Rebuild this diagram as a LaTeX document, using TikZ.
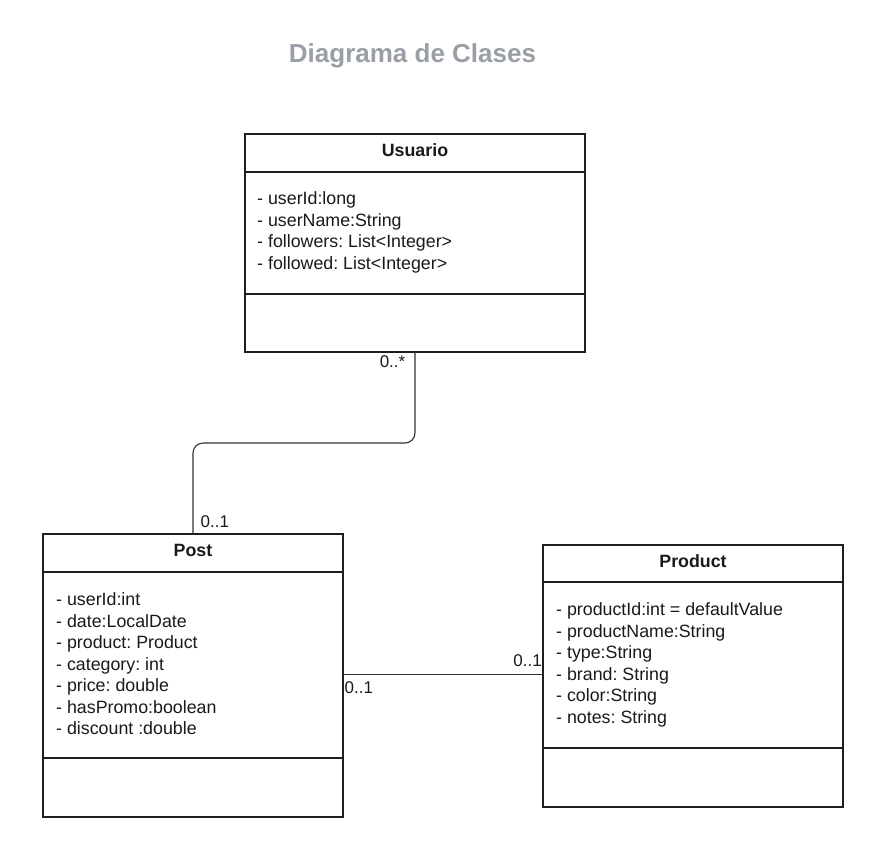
\documentclass[tikz,border=0pt]{standalone}
\usepackage{fontspec}
\setmainfont{Liberation Sans}
\frenchspacing
\definecolor{titlegray}{HTML}{9A9EA6}
\definecolor{boxc}{HTML}{1E1E1E}
\definecolor{connc}{HTML}{333333}
\definecolor{txtc}{HTML}{1A1A1A}
\begin{document}
\begin{tikzpicture}[x=1pt,y=-1pt,
  box/.style={draw=boxc, line width=1.8pt, inner sep=0pt, outer sep=0pt, anchor=north west},
  attr/.style={font=\fontsize{17.8}{21.5}\selectfont\frenchspacing, inner sep=0pt, anchor=base west, text=txtc},
  head/.style={font=\fontsize{17.8}{21.5}\selectfont\bfseries, inner sep=0pt, anchor=base, text=txtc},
  mult/.style={font=\fontsize{17}{20}\selectfont, inner sep=0pt, text=txtc},
  conn/.style={draw=connc, line width=1.1pt, rounded corners=10pt}]
\useasboundingbox (0,0) rectangle (883,855);
\fill[white] (0,0) rectangle (883,855);

% title
\node[font=\fontsize{26}{30}\selectfont\bfseries, text=titlegray, inner sep=0pt, anchor=base] (title) at (412.5,62) {Diagrama de Clases};

% Usuario
\node[box, minimum width=340pt, minimum height=38pt] (uh) at (245,134) {};
\node[box, minimum width=340pt, minimum height=122pt] (ua) at (245,172) {};
\node[box, minimum width=340pt, minimum height=58pt] (um) at (245,294) {};
\node[head] (uht) at (415,156.7) {Usuario};
\foreach \t [count=\i from 0] in {- userId:long, - userName:String, - followers: List<Integer>, - followed: List<Integer>}
  \node[attr] (uat\i) at (257,{204.5+21.5*\i}) {\t};

% Post
\node[box, minimum width=300pt, minimum height=38pt] (ph) at (43,534) {};
\node[box, minimum width=300pt, minimum height=186pt] (pa) at (43,572) {};
\node[box, minimum width=300pt, minimum height=59pt] (pm) at (43,758) {};
\node[head] (pht) at (193,556.7) {Post};
\foreach \t [count=\i from 0] in {- userId:int, - date:LocalDate, - product: Product, - category: int, - price: double, - hasPromo:boolean, - discount :double}
  \node[attr] (pat\i) at (56,{605.5+21.5*\i}) {\t};

% Product
\node[box, minimum width=300pt, minimum height=37pt] (rh) at (543,545) {};
\node[box, minimum width=300pt, minimum height=166pt] (ra) at (543,582) {};
\node[box, minimum width=300pt, minimum height=59pt] (rm) at (543,748) {};
\node[head] (rht) at (693,567.3) {Product};
\foreach \t [count=\i from 0] in {- productId:int = defaultValue, - productName:String, - type:String, - brand: String, - color:String, - notes: String}
  \node[attr] (rat\i) at (556,{615.5+21.5*\i}) {\t};

% connectors
\coordinate (mid) at (0,443);
\coordinate (hl) at (0,674.5);
\draw[conn] (um.south) -- (um.south |- mid) -- (ph.north |- mid) -- (ph.north);
\draw[conn] (pa.east |- hl) -- (ra.west |- hl);

% multiplicities
\node[mult, anchor=base east] (m1) at (405.5,367) {0..*};
\node[mult, anchor=base west] (m2) at (200.5,527) {0..1};
\node[mult, anchor=base east] (m3) at (542,666) {0..1};
\node[mult, anchor=base west] (m4) at (344.5,693) {0..1};
\end{tikzpicture}
\end{document}
